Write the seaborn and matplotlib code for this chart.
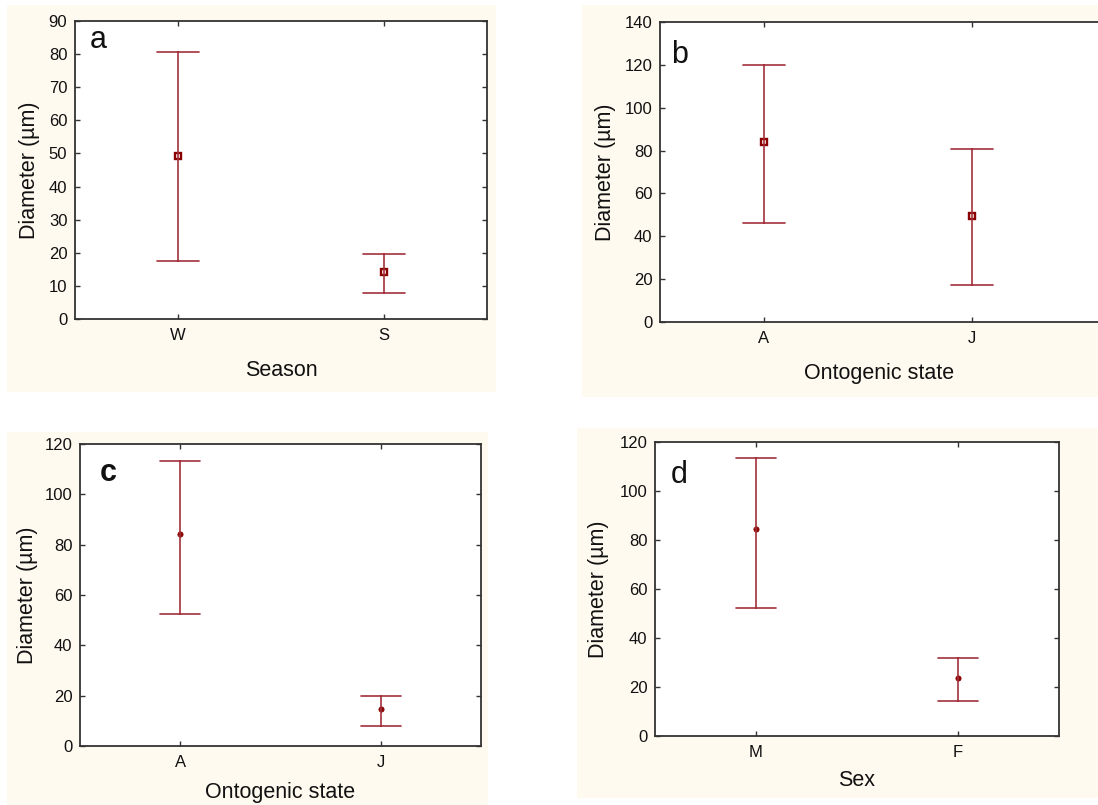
import numpy as np
import pandas as pd
import matplotlib
matplotlib.use("Agg")
import matplotlib.pyplot as plt
from matplotlib.patches import Rectangle
import seaborn as sns

# ---- data ----
cats_a = ["W", "S"]
mean_a = [49.2, 14.1]
low_a = [17.4, 7.8]
up_a = [80.5, 19.6]

cats_b = ["A", "J"]
mean_b = [83.9, 49.6]
low_b = [46.4, 17.3]
up_b = [120.1, 80.6]

cats_c = ["A", "J"]
mean_c = [84.2, 14.9]
low_c = [52.3, 7.8]
up_c = [113.3, 19.7]

cats_d = ["M", "F"]
mean_d = [84.6, 23.8]
low_d = [52.4, 14.3]
up_d = [113.6, 31.7]

xlabels = ["Season", "Ontogenic state", "Ontogenic state", "Sex"]
letters = ["a", "b", "c", "d"]
ymax = [90, 140, 120, 120]
ystep = [10, 20, 20, 20]
ylabel = "Diameter (µm)"

sns.set_theme(style="white")
plt.rcParams["font.family"] = ["Liberation Sans", "DejaVu Sans"]

W, H = 1098, 805
fig = plt.figure(figsize=(W / 100, H / 100), dpi=100)
fig.patch.set_facecolor("white")

def fr(x0, y0, x1, y1):
    return [x0 / W, 1 - y1 / H, (x1 - x0) / W, (y1 - y0) / H]

# cream panel backgrounds
for (x0, y0, x1, y1) in [(7, 5, 496, 392), (582, 5, 1098, 397),
                         (7, 432, 488, 805), (577, 428, 1098, 798)]:
    fig.patches.append(Rectangle((x0 / W, 1 - y1 / H), (x1 - x0) / W, (y1 - y0) / H,
                                 transform=fig.transFigure, facecolor="#FFFAF0",
                                 edgecolor="none", zorder=-5))

axes_px = [(75, 21, 487, 319), (660, 22, 1098, 322), (80, 444, 481, 746), (655, 442, 1059, 736)]
xlims = [(-0.5, 1.5), (-0.5, 1.606), (-0.5, 1.5), (-0.5, 1.5)]
ylabelpads = [6, 6, 5, 7.5]
xlabelpads = [12, 12, 8.5, 7]
letter_pos = [(0.035, 0.985), (0.025, 0.94), (0.05, 0.955), (0.04, 0.94)]
letter_weight = ["normal", "normal", "bold", "normal"]

datasets = [(cats_a, mean_a, low_a, up_a), (cats_b, mean_b, low_b, up_b),
            (cats_c, mean_c, low_c, up_c), (cats_d, mean_d, low_d, up_d)]

line_col = "#A3303A"
mark_col = "#8B0000"

for i, (cats, mean, low, up) in enumerate(datasets):
    ax = fig.add_axes(fr(*axes_px[i]))
    ax.set_zorder(1)
    ax.set_facecolor("white")
    df = pd.DataFrame({
        "cat": np.repeat(cats, 3),
        "val": np.ravel(np.column_stack([low, mean, up])),
    })
    if i < 2:
        mk = dict(marker="s", markersize=4.5, markerfacecolor="white",
                  markeredgecolor=mark_col, markeredgewidth=1.7)
    else:
        mk = dict(marker="o", markersize=3.8, markerfacecolor=mark_col,
                  markeredgecolor=mark_col, markeredgewidth=0.5)
    sns.pointplot(data=df, x="cat", y="val", order=cats, estimator="median",
                  errorbar=("pi", 100), capsize=0.2, color=mark_col,
                  linestyle="none", err_kws={"color": line_col, "linewidth": 1.2},
                  ax=ax, **mk)
    ax.set_xlim(*xlims[i])
    ax.set_ylim(0, ymax[i])
    ax.set_yticks(np.arange(0, ymax[i] + 1, ystep[i]))
    ax.set_xlabel(xlabels[i], fontsize=15.5, labelpad=xlabelpads[i], color="#111111")
    ax.set_ylabel(ylabel, fontsize=15.5, labelpad=ylabelpads[i], color="#111111")
    ax.tick_params(axis="both", which="both", direction="in", length=3.5, width=1,
                   colors="#333333", labelcolor="#111111", labelsize=12,
                   top=True, right=True, bottom=True, left=True)
    ax.tick_params(axis="y", pad=5.5)
    ax.tick_params(axis="x", pad=6.5)
    for s in ax.spines.values():
        s.set_color("#333333")
        s.set_linewidth(1.3)
        s.set_visible(True)
    if i == 1:
        ax.spines["right"].set_visible(False)
        ax.tick_params(right=False)
    ax.text(letter_pos[i][0], letter_pos[i][1], letters[i], transform=ax.transAxes,
            fontsize=22, va="top", ha="left", fontweight=letter_weight[i], color="#111111")

fig.savefig("out.png", dpi=100, facecolor="white")
